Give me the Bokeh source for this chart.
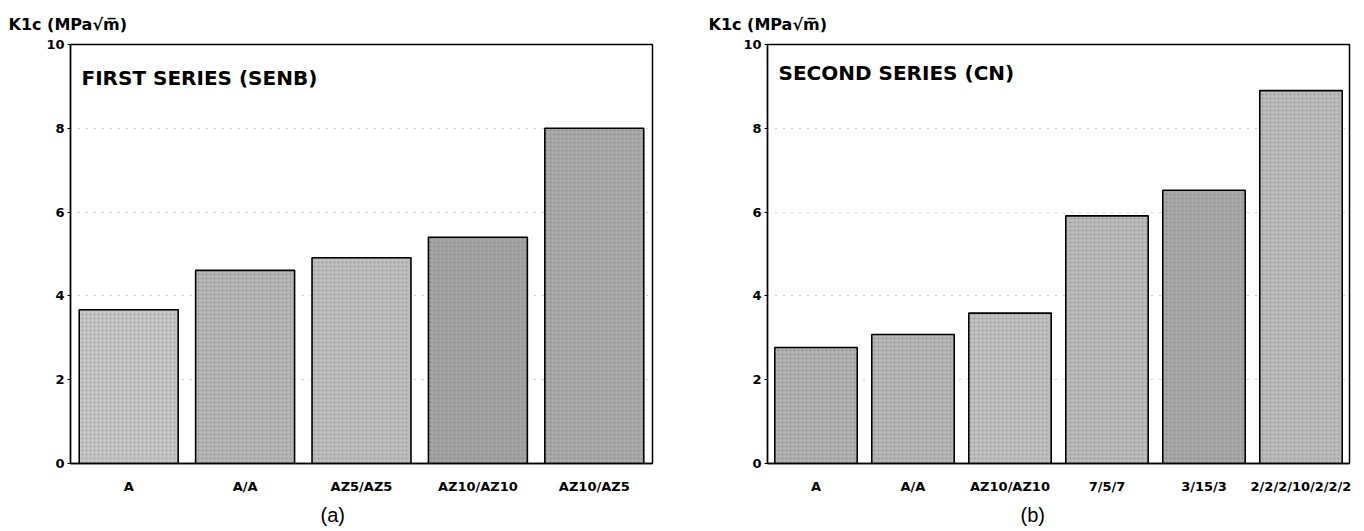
from bokeh.plotting import figure
from bokeh.layouts import row
from bokeh.models import (Label, Title, FactorRange, Range1d,
                          ColumnDataSource, FixedTicker)
from bokeh.embed import file_html
from bokeh.resources import INLINE

# ---- data ----
first_categories = ["A", "A/A", "AZ5/AZ5", "AZ10/AZ10", "AZ10/AZ5"]
first_k1c = [3.67, 4.61, 4.91, 5.40, 8.00]
second_categories = ["A", "A/A", "AZ10/AZ10", "7/5/7", "3/15/3", "2/2/2/10/2/2/2"]
second_k1c = [2.77, 3.08, 3.59, 5.91, 6.52, 8.90]
y_ticks = [0, 2, 4, 6, 8, 10]
y_label = "K1c (MPa\u221am\u0305)"
first_title = "FIRST SERIES (SENB)"
second_title = "SECOND SERIES (CN)"

# ---- styles ----
first_colors = ["#c6c6c6", "#b6b6b6", "#bebebe", "#a4a4a4", "#aaaaaa"]
second_colors = ["#b2b2b2", "#b7b7b7", "#c0c0c0", "#bbbbbb", "#a8a8a8", "#bcbcbc"]
BOLD = "DejaVu Sans"


def make_panel(cats, vals, colors, series_title, sub, width, bl, br, bt, bb,
               title_offset, title_standoff, sub_offset, series_dy):
    src = ColumnDataSource(dict(cat=cats, val=vals, color=colors))
    p = figure(x_range=FactorRange(*cats), y_range=Range1d(0, 10),
               width=width, height=531, output_backend="svg",
               toolbar_location=None,
               min_border_left=bl, min_border_right=br,
               min_border_top=bt, min_border_bottom=bb,
               title=Title(text=y_label, align="left", offset=title_offset,
                           standoff=title_standoff, text_font=BOLD,
                           text_font_style="bold", text_font_size="16px",
                           text_color="black"))
    p.vbar(x="cat", top="val", width=0.85, source=src, fill_color="color",
           line_color="black", line_width=1.6,
           hatch_pattern="dot", hatch_color="#555555", hatch_alpha=0.35,
           hatch_scale=4, hatch_weight=1)

    # axes
    p.yaxis.ticker = FixedTicker(ticks=y_ticks)
    p.yaxis.minor_tick_line_color = None
    p.yaxis.major_tick_in = 0
    p.yaxis.major_tick_out = 3
    p.yaxis.major_label_standoff = 3
    p.yaxis.axis_line_color = "black"
    p.yaxis.axis_line_width = 1.3
    p.yaxis.major_tick_line_color = "black"
    p.yaxis.major_label_text_font = BOLD
    p.yaxis.major_label_text_font_style = "bold"
    p.yaxis.major_label_text_font_size = "13px"
    p.yaxis.major_label_text_color = "black"

    p.xaxis.major_tick_line_color = None
    p.xaxis.minor_tick_line_color = None
    p.xaxis.axis_line_color = "black"
    p.xaxis.axis_line_width = 1.5
    p.xaxis.major_label_standoff = 9
    p.xaxis.major_label_text_font = BOLD
    p.xaxis.major_label_text_font_style = "bold"
    p.xaxis.major_label_text_font_size = "13px"
    p.xaxis.major_label_text_color = "black"

    p.xgrid.grid_line_color = None
    p.ygrid.ticker = FixedTicker(ticks=[2, 4, 6, 8])
    p.ygrid.grid_line_color = "#777777"
    p.ygrid.grid_line_dash = "1 7"
    p.ygrid.grid_line_alpha = 0.7

    p.outline_line_color = "black"
    p.outline_line_width = 1.5
    p.background_fill_color = "white"
    p.border_fill_color = "white"

    p.add_layout(Label(x=0, y=10, x_offset=11, y_offset=series_dy,
                       text=series_title, text_baseline="middle",
                       text_font=BOLD, text_font_style="bold",
                       text_font_size="20px", text_color="black"))
    p.add_layout(Title(text=sub, align="left", offset=sub_offset,
                       standoff=10, text_font="Liberation Sans",
                       text_font_style="normal", text_font_size="20px",
                       text_color="black"), "below")
    return p


p1 = make_panel(first_categories, first_k1c, first_colors, first_title, "(a)",
                700, 70, 48, 44, 67, -62, 22, 250, -33)
p2 = make_panel(second_categories, second_k1c, second_colors, second_title, "(b)",
                664, 67, 15, 42, 68, -59, 21, 253, -28)

layout = row(p1, p2, spacing=0)
open("out.html", "w").write(file_html(layout, INLINE))
